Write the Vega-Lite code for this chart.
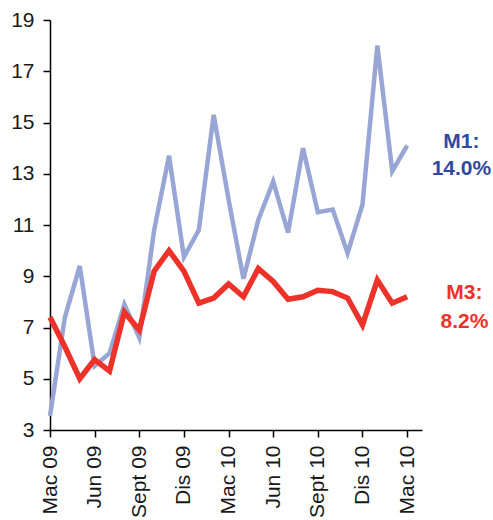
{
  "$schema": "https://vega.github.io/schema/vega-lite/v6.json",
  "autosize": {"type": "none"},
  "padding": {"left": 50, "top": 20, "right": 71, "bottom": 90},
  "width": 372,
  "height": 410,
  "background": "white",
  "config": {
    "view": {"stroke": null},
    "font": "Liberation Sans",
    "axis": {"grid": false, "domainColor": "#000000", "domainWidth": 1.5, "tickColor": "#000000", "tickWidth": 1.5, "tickSize": 7, "labelColor": "#1a1a1a", "labelFont": "Liberation Sans", "title": null}
  },
  "data": {
    "values": [
      {"i": 0, "series": "M1", "value": 3.55},
      {"i": 1, "series": "M1", "value": 7.4},
      {"i": 2, "series": "M1", "value": 9.4},
      {"i": 3, "series": "M1", "value": 5.5},
      {"i": 4, "series": "M1", "value": 6.0},
      {"i": 5, "series": "M1", "value": 7.9},
      {"i": 6, "series": "M1", "value": 6.6},
      {"i": 7, "series": "M1", "value": 10.8},
      {"i": 8, "series": "M1", "value": 13.7},
      {"i": 9, "series": "M1", "value": 9.75},
      {"i": 10, "series": "M1", "value": 10.8},
      {"i": 11, "series": "M1", "value": 15.3},
      {"i": 12, "series": "M1", "value": 12.0},
      {"i": 13, "series": "M1", "value": 8.9},
      {"i": 14, "series": "M1", "value": 11.2},
      {"i": 15, "series": "M1", "value": 12.7},
      {"i": 16, "series": "M1", "value": 10.7},
      {"i": 17, "series": "M1", "value": 14.0},
      {"i": 18, "series": "M1", "value": 11.5},
      {"i": 19, "series": "M1", "value": 11.6},
      {"i": 20, "series": "M1", "value": 9.9},
      {"i": 21, "series": "M1", "value": 11.8},
      {"i": 22, "series": "M1", "value": 18.0},
      {"i": 23, "series": "M1", "value": 13.1},
      {"i": 24, "series": "M1", "value": 14.1},
      {"i": 0, "series": "M3", "value": 7.4},
      {"i": 1, "series": "M3", "value": 6.25},
      {"i": 2, "series": "M3", "value": 5.0},
      {"i": 3, "series": "M3", "value": 5.75},
      {"i": 4, "series": "M3", "value": 5.3},
      {"i": 5, "series": "M3", "value": 7.6},
      {"i": 6, "series": "M3", "value": 6.9},
      {"i": 7, "series": "M3", "value": 9.2},
      {"i": 8, "series": "M3", "value": 10.0},
      {"i": 9, "series": "M3", "value": 9.2},
      {"i": 10, "series": "M3", "value": 7.95},
      {"i": 11, "series": "M3", "value": 8.15},
      {"i": 12, "series": "M3", "value": 8.7},
      {"i": 13, "series": "M3", "value": 8.2},
      {"i": 14, "series": "M3", "value": 9.3},
      {"i": 15, "series": "M3", "value": 8.8},
      {"i": 16, "series": "M3", "value": 8.1},
      {"i": 17, "series": "M3", "value": 8.2},
      {"i": 18, "series": "M3", "value": 8.45},
      {"i": 19, "series": "M3", "value": 8.4},
      {"i": 20, "series": "M3", "value": 8.15},
      {"i": 21, "series": "M3", "value": 7.1},
      {"i": 22, "series": "M3", "value": 8.85},
      {"i": 23, "series": "M3", "value": 7.95},
      {"i": 24, "series": "M3", "value": 8.2}
    ]
  },
  "encoding": {
    "x": {
      "field": "i", "type": "quantitative",
      "scale": {"domain": [0, 25], "nice": false, "zero": false},
      "axis": {
        "values": [0, 3, 6, 9, 12, 15, 18, 21, 24],
        "labelExpr": "['Mac 09','Jun 09','Sept 09','Dis 09','Mac 10','Jun 10','Sept 10','Dis 10','Mac 10'][datum.value/3]",
        "labelAngle": 270, "labelFontSize": 21, "labelPadding": 8
      }
    },
    "y": {
      "field": "value", "type": "quantitative",
      "scale": {"domain": [3, 19], "nice": false, "zero": false},
      "axis": {"values": [3, 5, 7, 9, 11, 13, 15, 17, 19], "labelFontSize": 21, "labelPadding": 9}
    }
  },
  "layer": [
    {
      "transform": [{"filter": "datum.series === 'M1'"}],
      "mark": {"type": "line", "color": "#97A6D4", "strokeWidth": 4.5, "clip": false}
    },
    {
      "transform": [{"filter": "datum.series === 'M3'"}],
      "mark": {"type": "line", "color": "#EE3229", "strokeWidth": 5.5, "clip": false}
    },
    {
      "data": {"values": [
        {"series": "M1", "tx": 27.65, "ty": 14.25, "label": "M1:"},
        {"series": "M1", "tx": 27.65, "ty": 13.19, "label": "14.0%"}
      ]},
      "mark": {"type": "text", "color": "#2E4A9E", "fontSize": 21, "fontWeight": "bold", "align": "center", "baseline": "middle"},
      "encoding": {
        "x": {"field": "tx", "type": "quantitative"},
        "y": {"field": "ty", "type": "quantitative"},
        "text": {"field": "label"}
      }
    },
    {
      "data": {"values": [
        {"series": "M3", "tx": 27.85, "ty": 8.33, "label": "M3:"},
        {"series": "M3", "tx": 27.85, "ty": 7.23, "label": "8.2%"}
      ]},
      "mark": {"type": "text", "color": "#EE3229", "fontSize": 21, "fontWeight": "bold", "align": "center", "baseline": "middle"},
      "encoding": {
        "x": {"field": "tx", "type": "quantitative"},
        "y": {"field": "ty", "type": "quantitative"},
        "text": {"field": "label"}
      }
    }
  ]
}
